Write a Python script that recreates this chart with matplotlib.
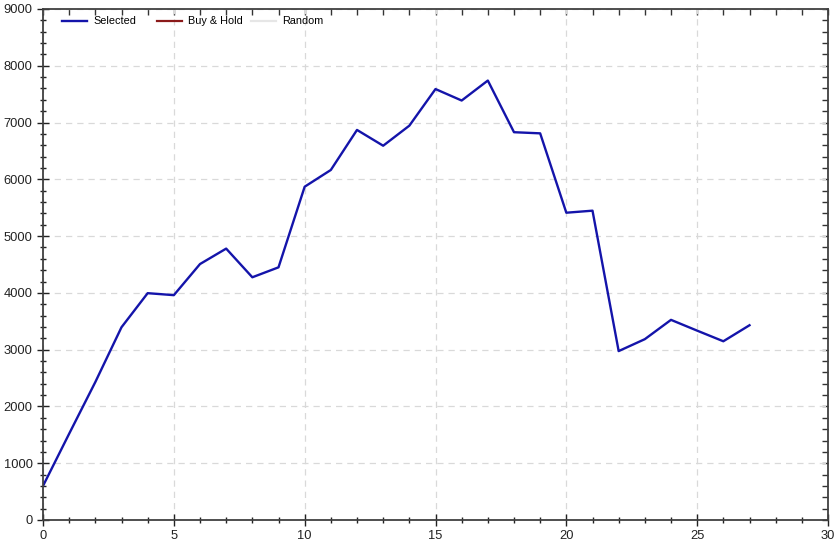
import matplotlib
matplotlib.use('Agg')
import matplotlib.pyplot as plt
from matplotlib.ticker import MultipleLocator

# equity curve values
steps = list(range(28))
selected = [600, 1520, 2430, 3395, 3995, 3960, 4508, 4780, 4275, 4450,
            5870, 6165, 6870, 6592, 6945, 7590, 7388, 7740, 6830, 6810,
            5412, 5448, 2975, 3185, 3525, 3335, 3148, 3430]
series_names = ['Selected', 'Buy & Hold', 'Random']
series_colors = ['#1414AA', '#8B1A1A', '#E6E6E6']

plt.rcParams['font.family'] = ['Liberation Sans', 'DejaVu Sans']

fig = plt.figure(figsize=(8.4, 5.46), dpi=100)
ax = fig.add_axes([43 / 840, 1 - 520 / 546, 785 / 840, 511 / 546])

lines = []
lines += ax.plot(steps, selected, color=series_colors[0], lw=1.7)
# empty series shown only in legend
lines += ax.plot([], [], color=series_colors[1], lw=1.6)
lines += ax.plot([], [], color=series_colors[2], lw=1.6)

ax.set_xlim(0, 30)
ax.set_ylim(0, 9000)
ax.xaxis.set_major_locator(MultipleLocator(5))
ax.xaxis.set_minor_locator(MultipleLocator(1))
ax.yaxis.set_major_locator(MultipleLocator(1000))
ax.yaxis.set_minor_locator(MultipleLocator(200))

ax.grid(True, which='major', color='#D9D9D9', linestyle=(0, (5, 4)), lw=0.9)
for s in ax.spines.values():
    s.set_color('#404040')
    s.set_linewidth(1.3)

ax.tick_params(which='both', direction='inout', colors='#222222', labelsize=9.3,
               labelcolor='#222222', top=False, right=False)
ax.tick_params(which='major', length=8, width=1.0)
ax.tick_params(which='minor', length=5, width=1.0)

# top and right edges have inward ticks only
top = ax.secondary_xaxis('top')
top.set_xticks(range(0, 31))
top.tick_params(direction='in', length=4, width=1.0, labeltop=False, colors='#333333')
top.spines['top'].set_visible(False)
right = ax.secondary_yaxis('right')
right.set_yticks(range(0, 9001, 200))
right.tick_params(direction='in', length=4, width=1.0, labelright=False, colors='#333333')
right.spines['right'].set_visible(False)

# one legend per entry so the uneven spacing of the original can be kept
for line, name, xa in zip(lines, series_names, [0.0187, 0.1397, 0.2595]):
    leg = ax.legend([line], [name], loc='upper left', frameon=False, fontsize=7.8,
                    handlelength=2.3, handletextpad=0.6, borderaxespad=0,
                    bbox_to_anchor=(xa, 0.994))
    ax.add_artist(leg)
ax.legend_ = None  # avoid drawing the last one twice

fig.savefig('out.png', dpi=100)
